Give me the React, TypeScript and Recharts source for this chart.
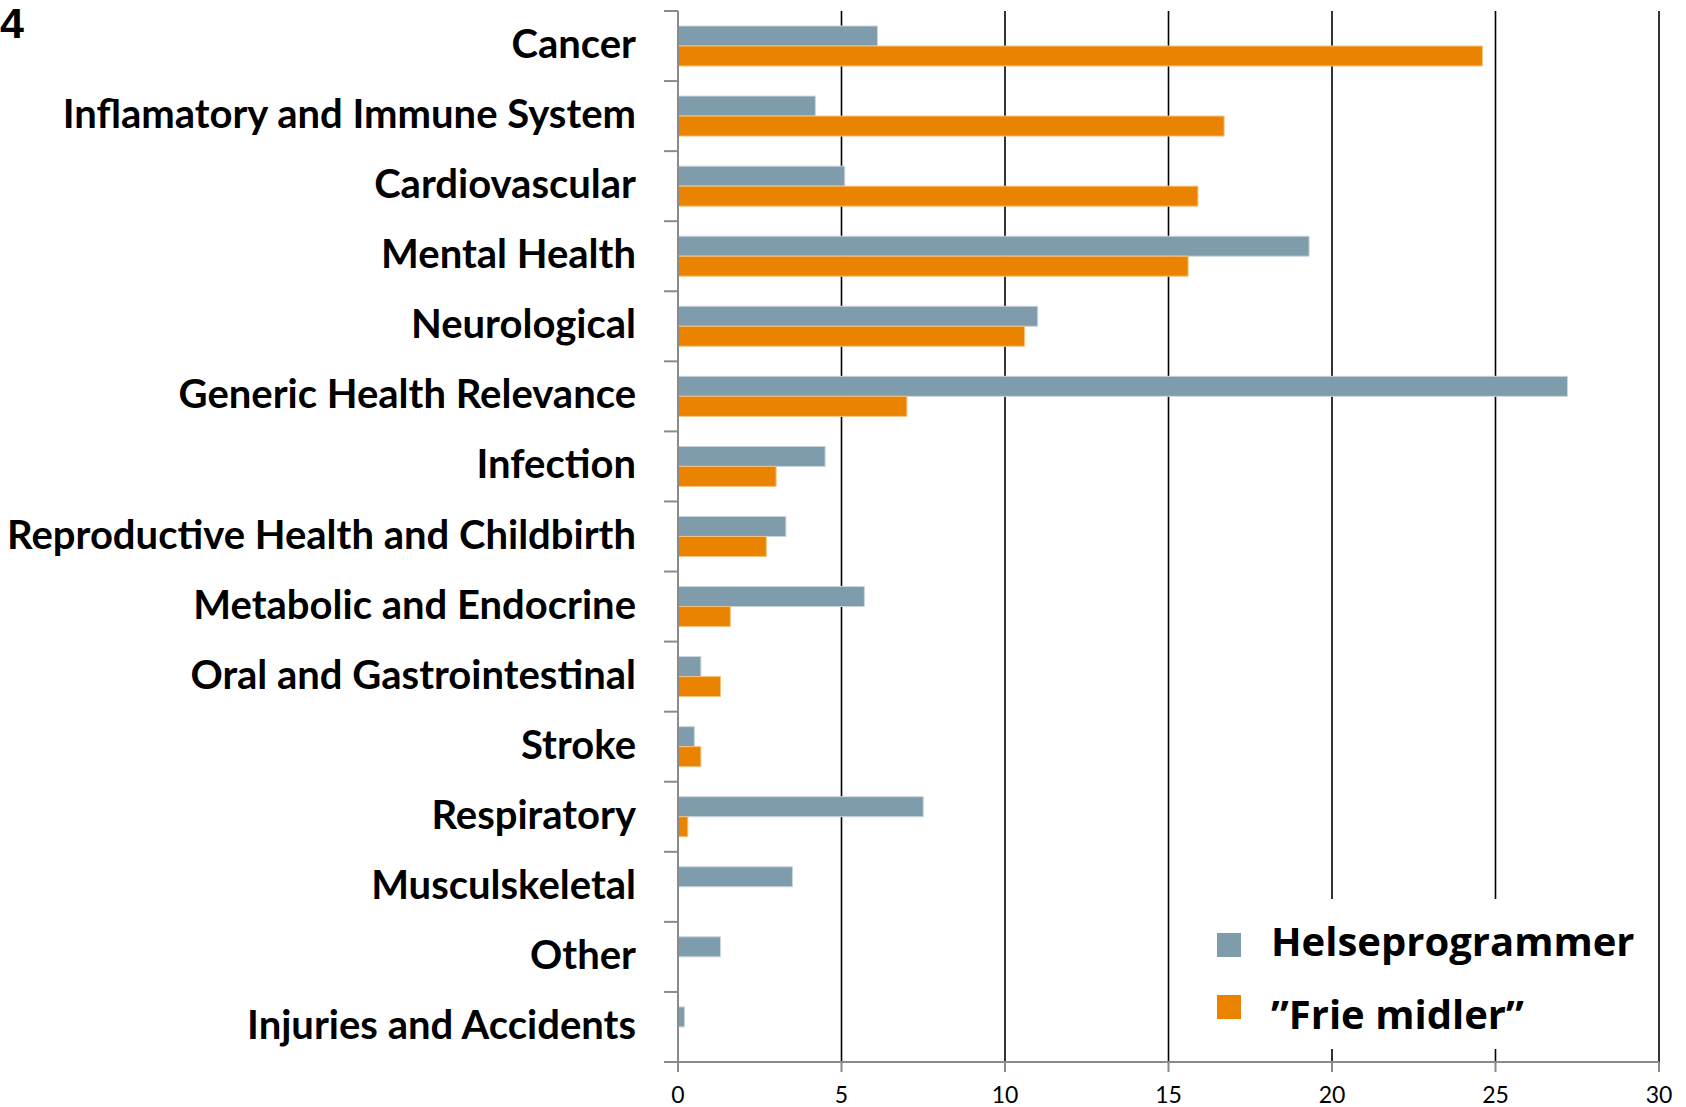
import { BarChart, Bar, XAxis, YAxis, CartesianGrid, Legend } from 'recharts';

const categories = [
  'Cancer',
  'Inflamatory and Immune System',
  'Cardiovascular',
  'Mental Health',
  'Neurological',
  'Generic Health Relevance',
  'Infection',
  'Reproductive Health and Childbirth',
  'Metabolic and Endocrine',
  'Oral and Gastrointestinal',
  'Stroke',
  'Respiratory',
  'Musculskeletal',
  'Other',
  'Injuries and Accidents'
];
const helseprogrammer = [6.1, 4.2, 5.1, 19.3, 11.0, 27.2, 4.5, 3.3, 5.7, 0.7, 0.5, 7.5, 3.5, 1.3, 0.2];
const frieMidler = [24.6, 16.7, 15.9, 15.6, 10.6, 7.0, 3.0, 2.7, 1.6, 1.3, 0.7, 0.3, 0, 0, 0];
const xTicks = [0, 5, 10, 15, 20, 25, 30];

const W = 1686;
const H = 1107;
const TOP = 11;
const XAXIS_H = 45;
const BAND = (H - TOP - XAXIS_H) / categories.length;
const FONT = 'Lato, "Open Sans", sans-serif';

const data = categories.map((name, i) => ({
  name,
  helse: helseprogrammer[i],
  frie: frieMidler[i]
}));

function CategoryTick(props: any) {
  const { x, y, payload, index } = props;
  const last = index === categories.length - 1;
  return (
    <g>
      <line x1={x - 14} x2={x} y1={y - BAND / 2} y2={y - BAND / 2} stroke="#8a8a8a" strokeWidth={2} />
      {last && <line x1={x - 14} x2={x} y1={y + BAND / 2} y2={y + BAND / 2} stroke="#8a8a8a" strokeWidth={2} />}
      <text x={x - 42} y={y} dy={-3} textAnchor="end" dominantBaseline="central"
        fontFamily={FONT} fontWeight={700} fontSize={40} fill="#000">
        {payload.value}
      </text>
    </g>
  );
}

// legend sits on a white box that hides the 20 and 25 gridlines
function LegendBox(props: any) {
  const { payload } = props;
  return (
    <svg width={462} height={150} style={{ display: 'block', background: '#fff' }}>
      {payload.map((entry: any, i: number) => (
        <g key={i}>
          <rect x={34} y={34 + i * 62} width={24} height={24} fill={entry.color} />
          <text x={88} y={57 + i * 73} fontFamily='"Open Sans", sans-serif' fontWeight={700} fontSize={40} fill="#000">
            {entry.value}
          </text>
        </g>
      ))}
    </svg>
  );
}

export default function App() {
  return (
    <div style={{ position: 'absolute', left: 0, top: 0, width: W, height: H, background: '#fff' }}>
      <div style={{ position: 'absolute', left: 0, top: 2, fontFamily: '"Liberation Sans", Arial, sans-serif', fontWeight: 700, fontSize: 43, lineHeight: '43px' }}>4</div>
      <BarChart width={W} height={H} data={data} layout="vertical"
        margin={{ top: TOP, right: 27, bottom: 0, left: 0 }} barSize={20} barGap={0}>
        <CartesianGrid horizontal={false} stroke="#000" strokeWidth={1.6} />
        <XAxis type="number" domain={[0, 30]} ticks={xTicks} height={XAXIS_H}
          axisLine={{ stroke: '#8a8a8a', strokeWidth: 2 }} tickLine={{ stroke: '#8a8a8a', strokeWidth: 2 }}
          tickSize={10} tickMargin={15}
          tick={{ fontFamily: FONT, fontSize: 23, fill: '#000' }} />
        <YAxis type="category" dataKey="name" width={678} interval={0}
          axisLine={{ stroke: '#8a8a8a', strokeWidth: 2 }} tickLine={false} tickSize={0} tickMargin={0}
          tick={<CategoryTick />} />
        <Legend layout="horizontal" align="center" verticalAlign="middle"
          wrapperStyle={{ position: 'absolute', left: 1183, top: 899, width: 462, height: 150 }}
          content={<LegendBox />} />
        <Bar dataKey="helse" name="Helseprogrammer" fill="#7F9CAC" stroke="#c9d5dc" strokeWidth={1} isAnimationActive={false} />
        <Bar dataKey="frie" name="”Frie midler”" fill="#E98300" stroke="#f5c27f" strokeWidth={1} isAnimationActive={false} />
      </BarChart>
    </div>
  );
}
